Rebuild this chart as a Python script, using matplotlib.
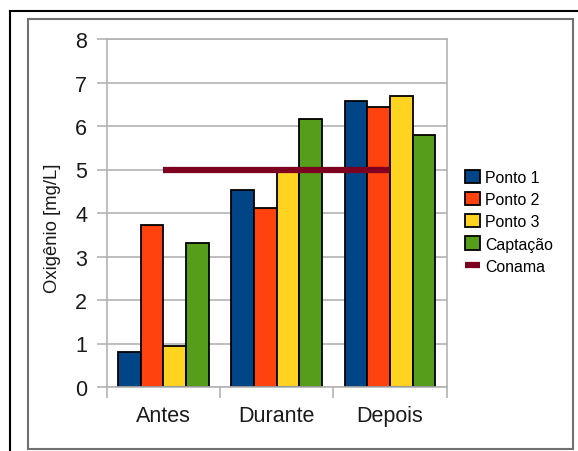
import matplotlib.pyplot as plt
from matplotlib.lines import Line2D
from matplotlib.patches import Rectangle
import numpy as np

plt.rcParams['font.family'] = ['Liberation Sans', 'DejaVu Sans']

# Datos
categorias = ['Antes', 'Durante', 'Depois']
ponto1 = [0.81, 4.54, 6.57]
ponto2 = [3.73, 4.12, 6.43]
ponto3 = [0.94, 5.02, 6.69]
captacao = [3.30, 6.17, 5.79]
conama = [5, 5, 5]

series = [('Ponto 1', ponto1, '#004586'),
          ('Ponto 2', ponto2, '#ff420e'),
          ('Ponto 3', ponto3, '#ffd320'),
          ('Captação', captacao, '#579d1c')]

W, H = 578, 452
fig = plt.figure(figsize=(W / 100, H / 100), dpi=100)
ax = fig.add_axes([106.7 / W, 1 - 388 / H, 340 / W, 348 / H])

x = np.arange(len(categorias))
ancho = 0.2
barras = []
for i, (nombre, valores, color) in enumerate(series):
    b = ax.bar(x + (i - 1.5) * ancho, valores, ancho, color=color, edgecolor='black',
               linewidth=1.3, label=nombre, zorder=2)
    barras.append(b)

linea, = ax.plot(x, conama, color='#7e0021', linewidth=4.5, label='Conama', zorder=3,
                 solid_capstyle='butt')

ax.set_xlim(-0.5, 2.5)
ax.set_ylim(0, 8)
ax.set_yticks(range(0, 9))
ax.grid(axis='y', color='#b3b3b3', linewidth=1.2, zorder=0)
for s in ax.spines.values():
    s.set_color('#b3b3b3')
    s.set_linewidth(1.2)

# ticks en los limites de las categorias, etiquetas en el centro
ax.set_xticks([-0.5, 0.5, 1.5, 2.5])
ax.set_xticklabels([])
ax.set_xticks(x, minor=True)
ax.set_xticklabels(categorias, minor=True, fontsize=15.5, color='#1a1a1a')
ax.tick_params(axis='x', which='major', length=8, width=1.2, color='#b3b3b3')
ax.tick_params(axis='x', which='minor', length=0, pad=13)
ax.tick_params(axis='y', length=7, width=1.2, color='#b3b3b3', pad=7,
               labelsize=15.5, labelcolor='#1a1a1a')

ax.set_ylabel('Oxigênio [mg/L]', fontsize=13.3, color='#1a1a1a')
ax.yaxis.set_label_coords(-0.135, 0.46)

ax.legend(barras + [linea], [s[0] for s in series] + ['Conama'],
          loc='upper left', bbox_to_anchor=(465 / W, 1 - 171 / H),
          bbox_transform=fig.transFigure, frameon=False, fontsize=11.4,
          handlelength=0.95, handleheight=0.9, handletextpad=0.3,
          labelspacing=0.45, borderaxespad=0, borderpad=0)

# marcos de la captura
fig.add_artist(Line2D([10 / W, 1], [1 - 12 / H, 1 - 12 / H], color='black',
                      linewidth=1.5, transform=fig.transFigure))
fig.add_artist(Line2D([10 / W, 10 / W], [0, 1 - 12 / H], color='black',
                      linewidth=1.5, transform=fig.transFigure))
fig.add_artist(Rectangle((28 / W, 1 - 450 / H), 545 / W, 430 / H, fill=False,
                         edgecolor='#707070', linewidth=1.5, transform=fig.transFigure))

fig.savefig('out.png', dpi=100)
